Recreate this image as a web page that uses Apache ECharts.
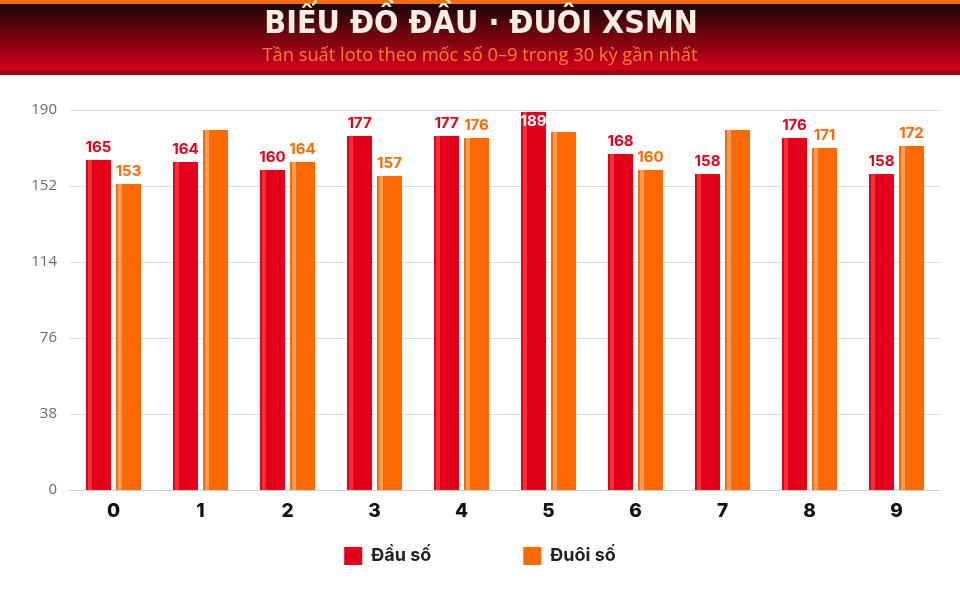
<!DOCTYPE html>
<html lang="vi">
<head>
<meta charset="utf-8">
<title>Biểu đồ Đầu · Đuôi XSMN</title>
<style>
  html, body { margin: 0; padding: 0; background: #fff; }
  #chart { width: 960px; height: 600px; }
</style>
</head>
<body>
<div id="chart"></div>
<script src="https://cdn.jsdelivr.net/npm/echarts@6/dist/echarts.min.js"></script>
<script>
// du lieu doc tu hinh
var categories = ['0', '1', '2', '3', '4', '5', '6', '7', '8', '9'];
var dauSo = [165, 164, 160, 177, 177, 189, 168, 158, 176, 158];
var duoiSo = [153, 180, 164, 157, 176, 179, 160, 180, 171, 172];
var yTicks = [0, 38, 76, 114, 152, 190];
// cot khong co nhan so tren hinh
var duoiHidden = [1, 5, 7];

var RED = '#e4001b', ORANGE = '#ff6a00';

function stripe(base, light) {
  return new echarts.graphic.LinearGradient(0, 0, 1, 0, [
    { offset: 0, color: base },
    { offset: 0.08, color: base },
    { offset: 0.08, color: light },
    { offset: 0.24, color: light },
    { offset: 0.24, color: base },
    { offset: 1, color: base }
  ]);
}

var chart = echarts.init(document.getElementById('chart'));

var dauData = dauSo.map(function (v) {
  if (v >= 185) {
    return { value: v, label: { position: 'insideTop', color: '#fff', distance: 2 } };
  }
  return v;
});
var duoiData = duoiSo.map(function (v, i) {
  if (duoiHidden.indexOf(i) >= 0) return { value: v, label: { show: false } };
  return v;
});

var labelFont = { fontSize: 15, fontWeight: 'bold', fontFamily: 'Inter', distance: 5 };

chart.setOption({
  animation: false,
  graphic: [
    { type: 'rect', shape: { x: 0, y: 0, width: 960, height: 4 }, style: { fill: '#ff6a00' }, z: 10 },
    {
      type: 'rect', shape: { x: 0, y: 4, width: 960, height: 66 },
      style: {
        fill: new echarts.graphic.LinearGradient(0, 0, 0, 1, [
          { offset: 0, color: '#1a0808' },
          { offset: 1, color: '#d5001b' }
        ])
      },
      z: 10
    },
    { type: 'rect', shape: { x: 0, y: 70, width: 960, height: 5 }, style: { fill: '#a00012' }, z: 10 },
    {
      type: 'text', z: 11,
      style: {
        x: 481, y: 25, text: 'BIỂU ĐỒ ĐẦU · ĐUÔI XSMN',
        align: 'center', verticalAlign: 'middle',
        fill: '#fdeee2', font: 'bold 32px "DejaVu Sans Condensed", "DejaVu Sans", sans-serif'
      }
    },
    {
      type: 'text', z: 11,
      style: {
        x: 480, y: 56, text: 'Tần suất loto theo mốc số 0–9 trong 30 kỳ gần nhất',
        align: 'center', verticalAlign: 'middle',
        fill: '#ff7e2e', font: '18.3px "Open Sans", sans-serif'
      }
    }
  ],
  grid: { left: 70, right: 20, top: 110, bottom: 110 },
  legend: {
    bottom: 30,
    left: 'center',
    itemWidth: 18,
    itemHeight: 18,
    itemGap: 92,
    icon: 'rect',
    textStyle: { color: '#222', fontSize: 18, fontWeight: 'bold', fontFamily: 'Inter', padding: [0, 0, 0, 4] },
    data: [
      { name: 'Đầu số', itemStyle: { color: RED } },
      { name: 'Đuôi số', itemStyle: { color: ORANGE } }
    ]
  },
  xAxis: {
    type: 'category',
    data: categories,
    axisLine: { lineStyle: { color: '#cccccc' } },
    axisTick: { show: false },
    axisLabel: { color: '#111', fontSize: 19, fontWeight: 800, fontFamily: 'Inter', margin: 12 }
  },
  yAxis: {
    type: 'value',
    min: yTicks[0],
    max: yTicks[yTicks.length - 1],
    interval: yTicks[1] - yTicks[0],
    axisLine: { show: false },
    axisTick: { show: false },
    axisLabel: { color: '#6a6a6a', fontSize: 15, fontFamily: 'Open Sans', margin: 13 },
    splitLine: { lineStyle: { color: '#dddddd' } }
  },
  series: [
    {
      name: 'Đầu số',
      type: 'bar',
      data: dauData,
      barWidth: 25,
      barGap: '20%',
      itemStyle: { color: stripe(RED, '#ff2e35') },
      label: Object.assign({ show: true, position: 'top', color: RED }, labelFont)
    },
    {
      name: 'Đuôi số',
      type: 'bar',
      data: duoiData,
      barWidth: 25,
      itemStyle: { color: stripe(ORANGE, '#ff9c55') },
      label: Object.assign({ show: true, position: 'top', color: ORANGE }, labelFont)
    }
  ]
});
</script>
</body>
</html>
